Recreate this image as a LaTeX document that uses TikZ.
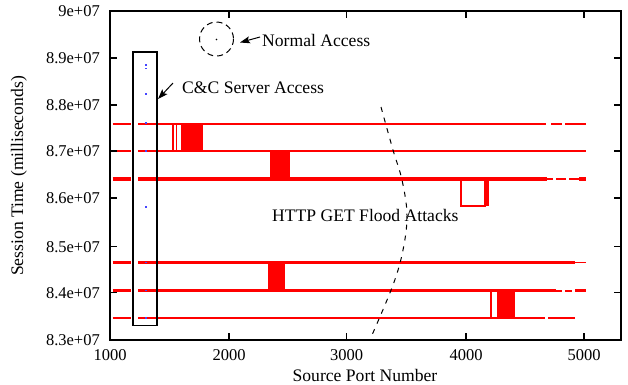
\documentclass[tikz,border=0pt]{standalone}
\usepackage{fontspec}
\setmainfont{Liberation Serif}
\usetikzlibrary{arrows.meta}
\definecolor{plotred}{RGB}{255,0,0}
\definecolor{dotblue}{RGB}{70,70,255}
\begin{document}
\begin{tikzpicture}[x=1pt,y=-1pt,
  lbl/.style={font=\fontsize{16.5}{18}\selectfont, inner sep=0pt},
  txt/.style={font=\fontsize{17.6}{19}\selectfont, inner sep=0pt},
  frameline/.style={line width=1.3pt, black},
  rl/.style={plotred, line width=#1},
  rl/.default=1.3pt,
  blk/.style={fill=plotred, draw=none},
  dotb/.style={fill=dotblue, draw=none},
  pointer/.style={line width=1pt, -{Stealth[length=10pt,width=7pt,inset=2pt]}}
]
\useasboundingbox (0,0) rectangle (628,384);
\fill[white] (0,0) rectangle (628,384);

% ---- red data lines ----
% L1
\draw[rl=1.4pt] (112.7,124) -- (131,124) (138,124) -- (546,124) (551,124) -- (562,124) (565,124) -- (586,124);
% L2
\draw[rl=2.6pt] (112.7,151) -- (131,151) (138,151) -- (586,151);
% L3
\draw[rl=4.5pt] (112.7,179) -- (131,179) (138,179) -- (397,179);
\draw[rl=3.6pt] (397,179) -- (547,179);
\draw[rl=2pt] (547,179) -- (553,179) (556,179) -- (566,179) (569,179) -- (579,179);
\draw[rl=3.6pt] (579,179) -- (586,179);
% L4
\draw[rl=3pt] (112.7,262.5) -- (131,262.5) (138,262.5) -- (575,262.5);
\draw[rl=1.4pt] (575,262.5) -- (586,262.5);
% L5
\draw[rl=3pt] (112.7,290.5) -- (131,290.5) (138,290.5) -- (556,290.5);
\draw[rl=2pt] (556,290.5) -- (562,290.5) (565,290.5) -- (572,290.5);
\draw[rl=3pt] (575,290.5) -- (586,290.5);
% L6
\draw[rl=1.4pt] (112.7,318) -- (131,318) (138,318) -- (193,318);
\draw[rl=2.4pt] (193,318) -- (545,318) (548,318) -- (575,318);

% ---- red blocks ----
\draw[rl=1.2pt] (173,124) -- (173,151) (176.5,124) -- (176.5,151);
\fill[blk] (180.7,124) rectangle (203.3,151);
\fill[blk] (270,151) rectangle (290,179);
\draw[rl=1.2pt] (461,179) rectangle (485,206);
\fill[blk] (485,179) rectangle (489,206);
\fill[blk] (268,262.5) rectangle (285,290.5);
\draw[rl=1.2pt] (491,290.5) -- (491,318);
\fill[blk] (497,290.5) rectangle (515,318);

% ---- frame and ticks ----
\draw[frameline] (110,11) rectangle (621,340);
\foreach \yy in {58,105,151,198,246.7,292.7}{
  \draw[frameline] (110,\yy) -- (117,\yy);
  \draw[frameline] (621,\yy) -- (614,\yy);
}
\foreach \xx in {229,346.7,466,584}{
  \draw[frameline] (\xx,340) -- (\xx,333);
  \draw[frameline] (\xx,11) -- (\xx,18);
}

% ---- tick labels ----
\node[lbl, anchor=east] (y9) at (100,11) {9e+07};
\node[lbl, anchor=east] (y89) at (100,58) {8.9e+07};
\node[lbl, anchor=east] (y88) at (100,105) {8.8e+07};
\node[lbl, anchor=east] (y87) at (100,151) {8.7e+07};
\node[lbl, anchor=east] (y86) at (100,198) {8.6e+07};
\node[lbl, anchor=east] (y85) at (100,246.7) {8.5e+07};
\node[lbl, anchor=east] (y84) at (100,292.7) {8.4e+07};
\node[lbl, anchor=east] (y83) at (100,340) {8.3e+07};
\node[lbl] (x1) at (110,355) {1000};
\node[lbl] (x2) at (229,355) {2000};
\node[lbl] (x3) at (346.7,355) {3000};
\node[lbl] (x4) at (466,355) {4000};
\node[lbl] (x5) at (584,355) {5000};
\node[txt] (xlab) at (365,375) {Source Port Number};
\node[txt, rotate=90] (ylab) at (19,176) {Session Time (milliseconds)};

% ---- C&C box and blue points ----
\draw[frameline] (133,52) rectangle (157,325.7);
\foreach \yy in {65,68.5,94,123,151,207,262.5,290.5,318}{
  \fill[dotb] (145.2,\yy-0.8) rectangle (146.8,\yy+0.8);
}

% ---- normal access ----
\draw[line width=1pt, dash pattern=on 6pt off 4pt] (216.5,39) circle[radius=17];
\fill[black] (216.5,39.5) circle[radius=0.8];
\coordinate (nfrom) at (260,37);
\coordinate (nto) at (240,42.5);
\draw[pointer] (nfrom) -- (nto);
\node[txt, anchor=west] (normal) at (262,40) {Normal Access};

% ---- C&C label ----
\coordinate (cfrom) at (173,83);
\coordinate (cto) at (158,99);
\draw[pointer] (cfrom) -- (cto);
\node[txt, anchor=west] (cc) at (182,88) {C\&C Server Access};

% ---- HTTP GET ----
\node[txt, anchor=west] (http) at (272,215) {HTTP GET Flood Attacks};
\draw[line width=1pt, dash pattern=on 5pt off 6pt] plot[smooth, tension=0.6] coordinates {(381,107) (393,150) (402,180) (407,215) (403,250) (393,285) (372,335)};
\end{tikzpicture}
\end{document}
